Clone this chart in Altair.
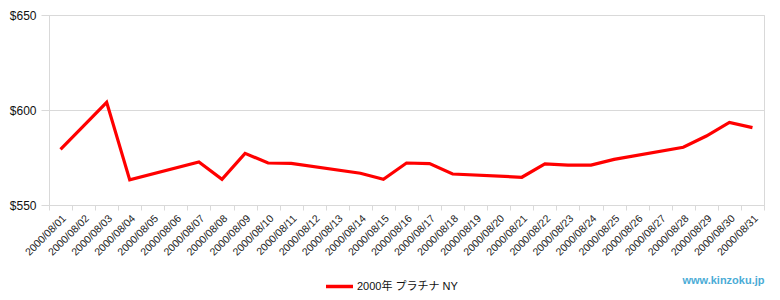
import altair as alt
import pandas as pd

dates = [f"2000/08/{d:02d}" for d in range(1, 32)]
prices = [579.3, 591.6, 604.0, 563.2, None, None, 572.6, 563.5, 577.2, 572.1,
          571.9, None, None, 566.7, 563.5, 572.1, 571.8, 566.3, None, None,
          564.6, 571.6, 571.0, 571.0, 574.0, None, None, 580.4, 586.3, 593.5, 590.7]
series_name = "2000年 プラチナ NY"
y_ticks = [550, 600, 650]

df = pd.DataFrame({"date": dates, "price": prices, "series": series_name})

FONT = "Liberation Sans, Noto Sans CJK JP, sans-serif"
GRID = "#d9d9d9"

chart = alt.Chart(df).transform_filter(
    "isValid(datum.price)"
).mark_line(strokeWidth=3.2, strokeJoin="miter").encode(
    x=alt.X("date:O", bandPosition=0.5,
            scale=alt.Scale(type="band", domain=dates, paddingInner=0, paddingOuter=0),
            axis=alt.Axis(title=None, labelAngle=-45, tickBand="extent", grid=False,
                          labelFontSize=10.5, labelFont=FONT, labelColor="#222222",
                          domainColor=GRID, tickColor=GRID, tickSize=5, labelPadding=3)),
    y=alt.Y("price:Q", scale=alt.Scale(domain=[550, 650], nice=False, zero=False),
            axis=alt.Axis(title=None, values=y_ticks, format="$.0f", grid=True,
                          gridColor=GRID, domainColor=GRID, tickColor=GRID, tickSize=8,
                          labelFontSize=12, labelFont=FONT, labelColor="#111111",
                          labelPadding=5)),
    color=alt.Color("series:N", scale=alt.Scale(range=["#ff0000"]),
                    legend=alt.Legend(title=None, orient="none", legendX=275, legendY=256,
                                      symbolType="stroke", symbolSize=729,
                                      symbolStrokeWidth=3.5, labelFontSize=11,
                                      labelFont=FONT, labelColor="#111111", labelOffset=2)),
).properties(
    width=715, height=190,
    padding={"left": 49, "top": 15, "right": 16, "bottom": 95},
    autosize=alt.AutoSizeParams(type="none"),
    title=alt.TitleParams("www.kinzoku.jp", orient="bottom", anchor="end",
                          color="#4bacd6", fontSize=11, fontWeight="bold",
                          font=FONT, offset=-19),
).configure_view(stroke=GRID)

chart.save("out.html", embed_options={"renderer": "svg", "actions": False})
